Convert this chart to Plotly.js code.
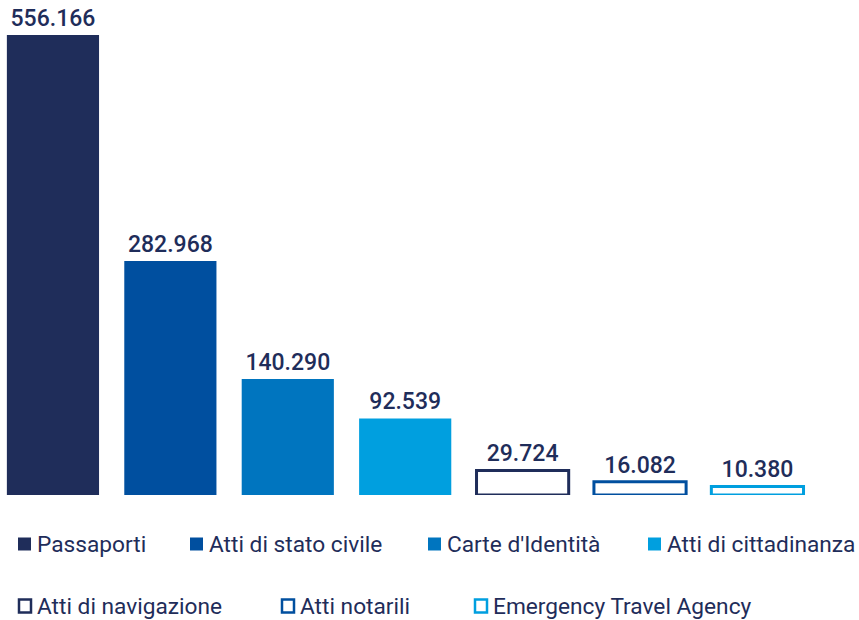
<!DOCTYPE html>
<html><head><meta charset="utf-8">
<script src="https://cdn.plot.ly/plotly-3.0.1.min.js"></script>
<style>html,body{margin:0;padding:0;background:#fff}#chart{width:859px;height:620px}</style>
</head><body><div id="chart"></div>
<script>
const categories = ["Passaporti","Atti di stato civile","Carte d'Identità","Atti di cittadinanza","Atti di navigazione","Atti notarili","Emergency Travel Agency"];
const values = [556166, 282968, 140290, 92539, 29724, 16082, 10380];
const valueLabels = ["556.166","282.968","140.290","92.539","29.724","16.082","10.380"];
const seriesColors = ["#1f2d5a","#004f9f","#0075bf","#009fdf","#1f2d5a","#004f9f","#009fdf"];
const hollow = [false,false,false,false,true,true,true];

const W = 859, H = 620, MB = 125;
const plotH = H - MB;
const FONT = "Roboto, 'Noto Sans', sans-serif";
const TXT = "#1f2d5a";

const trace = {
  type: 'bar',
  x: categories,
  y: values,
  text: valueLabels,
  textposition: 'outside',
  cliponaxis: false,
  textfont: {family: FONT, size: 23, color: TXT, weight: 500},
  marker: {
    color: seriesColors.map((c,i)=> hollow[i] ? '#ffffff' : c),
    line: {color: seriesColors, width: hollow.map(h => h ? 3 : 0)}
  },
  hoverinfo: 'none'
};

// legend layout (pixel positions in page)
const legendPos = [[18,544],[190,544],[428,544],[648,544],[18,606],[281,606],[474,606]];
const px = x => x / W;
const py = y => (plotH - y) / plotH;
const shapes = [], annotations = [];
categories.forEach((name,i)=>{
  const [lx, ly] = legendPos[i];
  const s = 13;
  if (hollow[i]) {
    shapes.push({type:'rect', xref:'paper', yref:'paper', x0:px(lx+1), x1:px(lx+s), y0:py(ly+6.5), y1:py(ly-6.5),
      line:{color:seriesColors[i], width:2.5}, fillcolor:'rgba(0,0,0,0)'});
  } else {
    shapes.push({type:'rect', xref:'paper', yref:'paper', x0:px(lx), x1:px(lx+s), y0:py(ly+6.5), y1:py(ly-6.5),
      line:{width:0}, fillcolor:seriesColors[i]});
  }
  annotations.push({xref:'paper', yref:'paper', x:px(lx+17), y:py(ly), xanchor:'left', yanchor:'middle',
    text:name, showarrow:false, font:{family:FONT, size:22.7, color:TXT}});
});

const layout = {
  width: W, height: H,
  margin: {l:0, r:0, t:0, b:MB, autoexpand:false},
  paper_bgcolor:'#fff', plot_bgcolor:'#fff',
  bargap: 0.215,
  showlegend: false,
  xaxis: {range:[-0.451, 6.865], showticklabels:false, showgrid:false, zeroline:false, showline:false, ticks:''},
  yaxis: {range:[0, 598500], showticklabels:false, showgrid:false, zeroline:false, showline:false, ticks:''},
  shapes: shapes,
  annotations: annotations
};
Plotly.newPlot('chart', [trace], layout, {staticPlot:true, displayModeBar:false});
</script></body></html>
